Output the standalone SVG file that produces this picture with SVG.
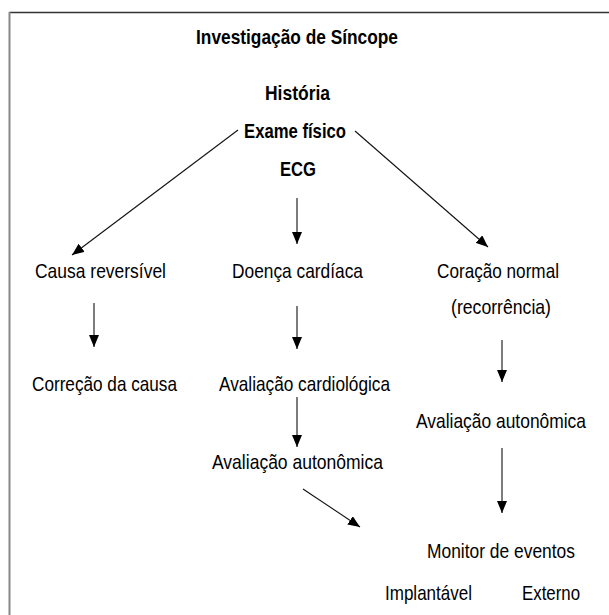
<svg xmlns="http://www.w3.org/2000/svg" width="609" height="615" viewBox="0 0 609 615">
<style>
text{font-family:"Liberation Sans",Arial,sans-serif;font-size:21px;fill:#000}
.b{font-weight:bold}
.c line{stroke:#111;stroke-width:1.1;marker-end:url(#ah)}
</style>
<defs>
<marker id="ah" markerUnits="userSpaceOnUse" markerWidth="12" markerHeight="10" refX="12" refY="5" orient="auto">
<path d="M0,0 L12,5 L0,10 z" fill="#000"/>
</marker>
</defs>
<rect width="609" height="615" fill="#fff"/>
<g id="frame">
<line x1="9" y1="12.5" x2="609" y2="12.5" stroke="#333" stroke-width="1.5"/>
<line x1="9.5" y1="12" x2="9.5" y2="615" stroke="#888" stroke-width="2"/>
</g>
<g id="title"><text class="b" x="196" y="44" textLength="202" lengthAdjust="spacingAndGlyphs">Investigação de Síncope</text></g>
<g id="historia"><text class="b" x="265" y="100" textLength="65" lengthAdjust="spacingAndGlyphs">História</text></g>
<g id="exame"><text class="b" x="244" y="138" textLength="102" lengthAdjust="spacingAndGlyphs">Exame físico</text></g>
<g id="ecg"><text class="b" x="280" y="176" textLength="36" lengthAdjust="spacingAndGlyphs">ECG</text></g>
<g id="causa"><text x="35" y="278" textLength="131" lengthAdjust="spacingAndGlyphs">Causa reversível</text></g>
<g id="doenca"><text x="232" y="278" textLength="131" lengthAdjust="spacingAndGlyphs">Doença cardíaca</text></g>
<g id="coracao"><text x="437" y="278" textLength="122" lengthAdjust="spacingAndGlyphs">Coração normal</text><text x="451" y="314" textLength="100" lengthAdjust="spacingAndGlyphs">(recorrência)</text></g>
<g id="correcao"><text x="32" y="391" textLength="145" lengthAdjust="spacingAndGlyphs">Correção da causa</text></g>
<g id="aval-cardio"><text x="219" y="391" textLength="171" lengthAdjust="spacingAndGlyphs">Avaliação cardiológica</text></g>
<g id="aval-auto-right"><text x="416" y="428" textLength="170" lengthAdjust="spacingAndGlyphs">Avaliação autonômica</text></g>
<g id="aval-auto-mid"><text x="212" y="469" textLength="171" lengthAdjust="spacingAndGlyphs">Avaliação autonômica</text></g>
<g id="monitor"><text x="427" y="558" textLength="148" lengthAdjust="spacingAndGlyphs">Monitor de eventos</text></g>
<g id="implantavel"><text x="385" y="600" textLength="87" lengthAdjust="spacingAndGlyphs">Implantável</text></g>
<g id="externo"><text x="522" y="600" textLength="58" lengthAdjust="spacingAndGlyphs">Externo</text></g>
<g id="connectors" class="c">
<line x1="238" y1="130" x2="72" y2="255"/>
<line x1="355" y1="131" x2="488" y2="247"/>
<line x1="297" y1="198" x2="297" y2="244"/>
<line x1="94" y1="303" x2="94" y2="347"/>
<line x1="297" y1="306" x2="297" y2="349"/>
<line x1="502" y1="340" x2="502" y2="382"/>
<line x1="297" y1="397" x2="297" y2="447"/>
<line x1="502" y1="448" x2="502" y2="513"/>
<line x1="303" y1="489" x2="360" y2="527"/>
</g>
</svg>
